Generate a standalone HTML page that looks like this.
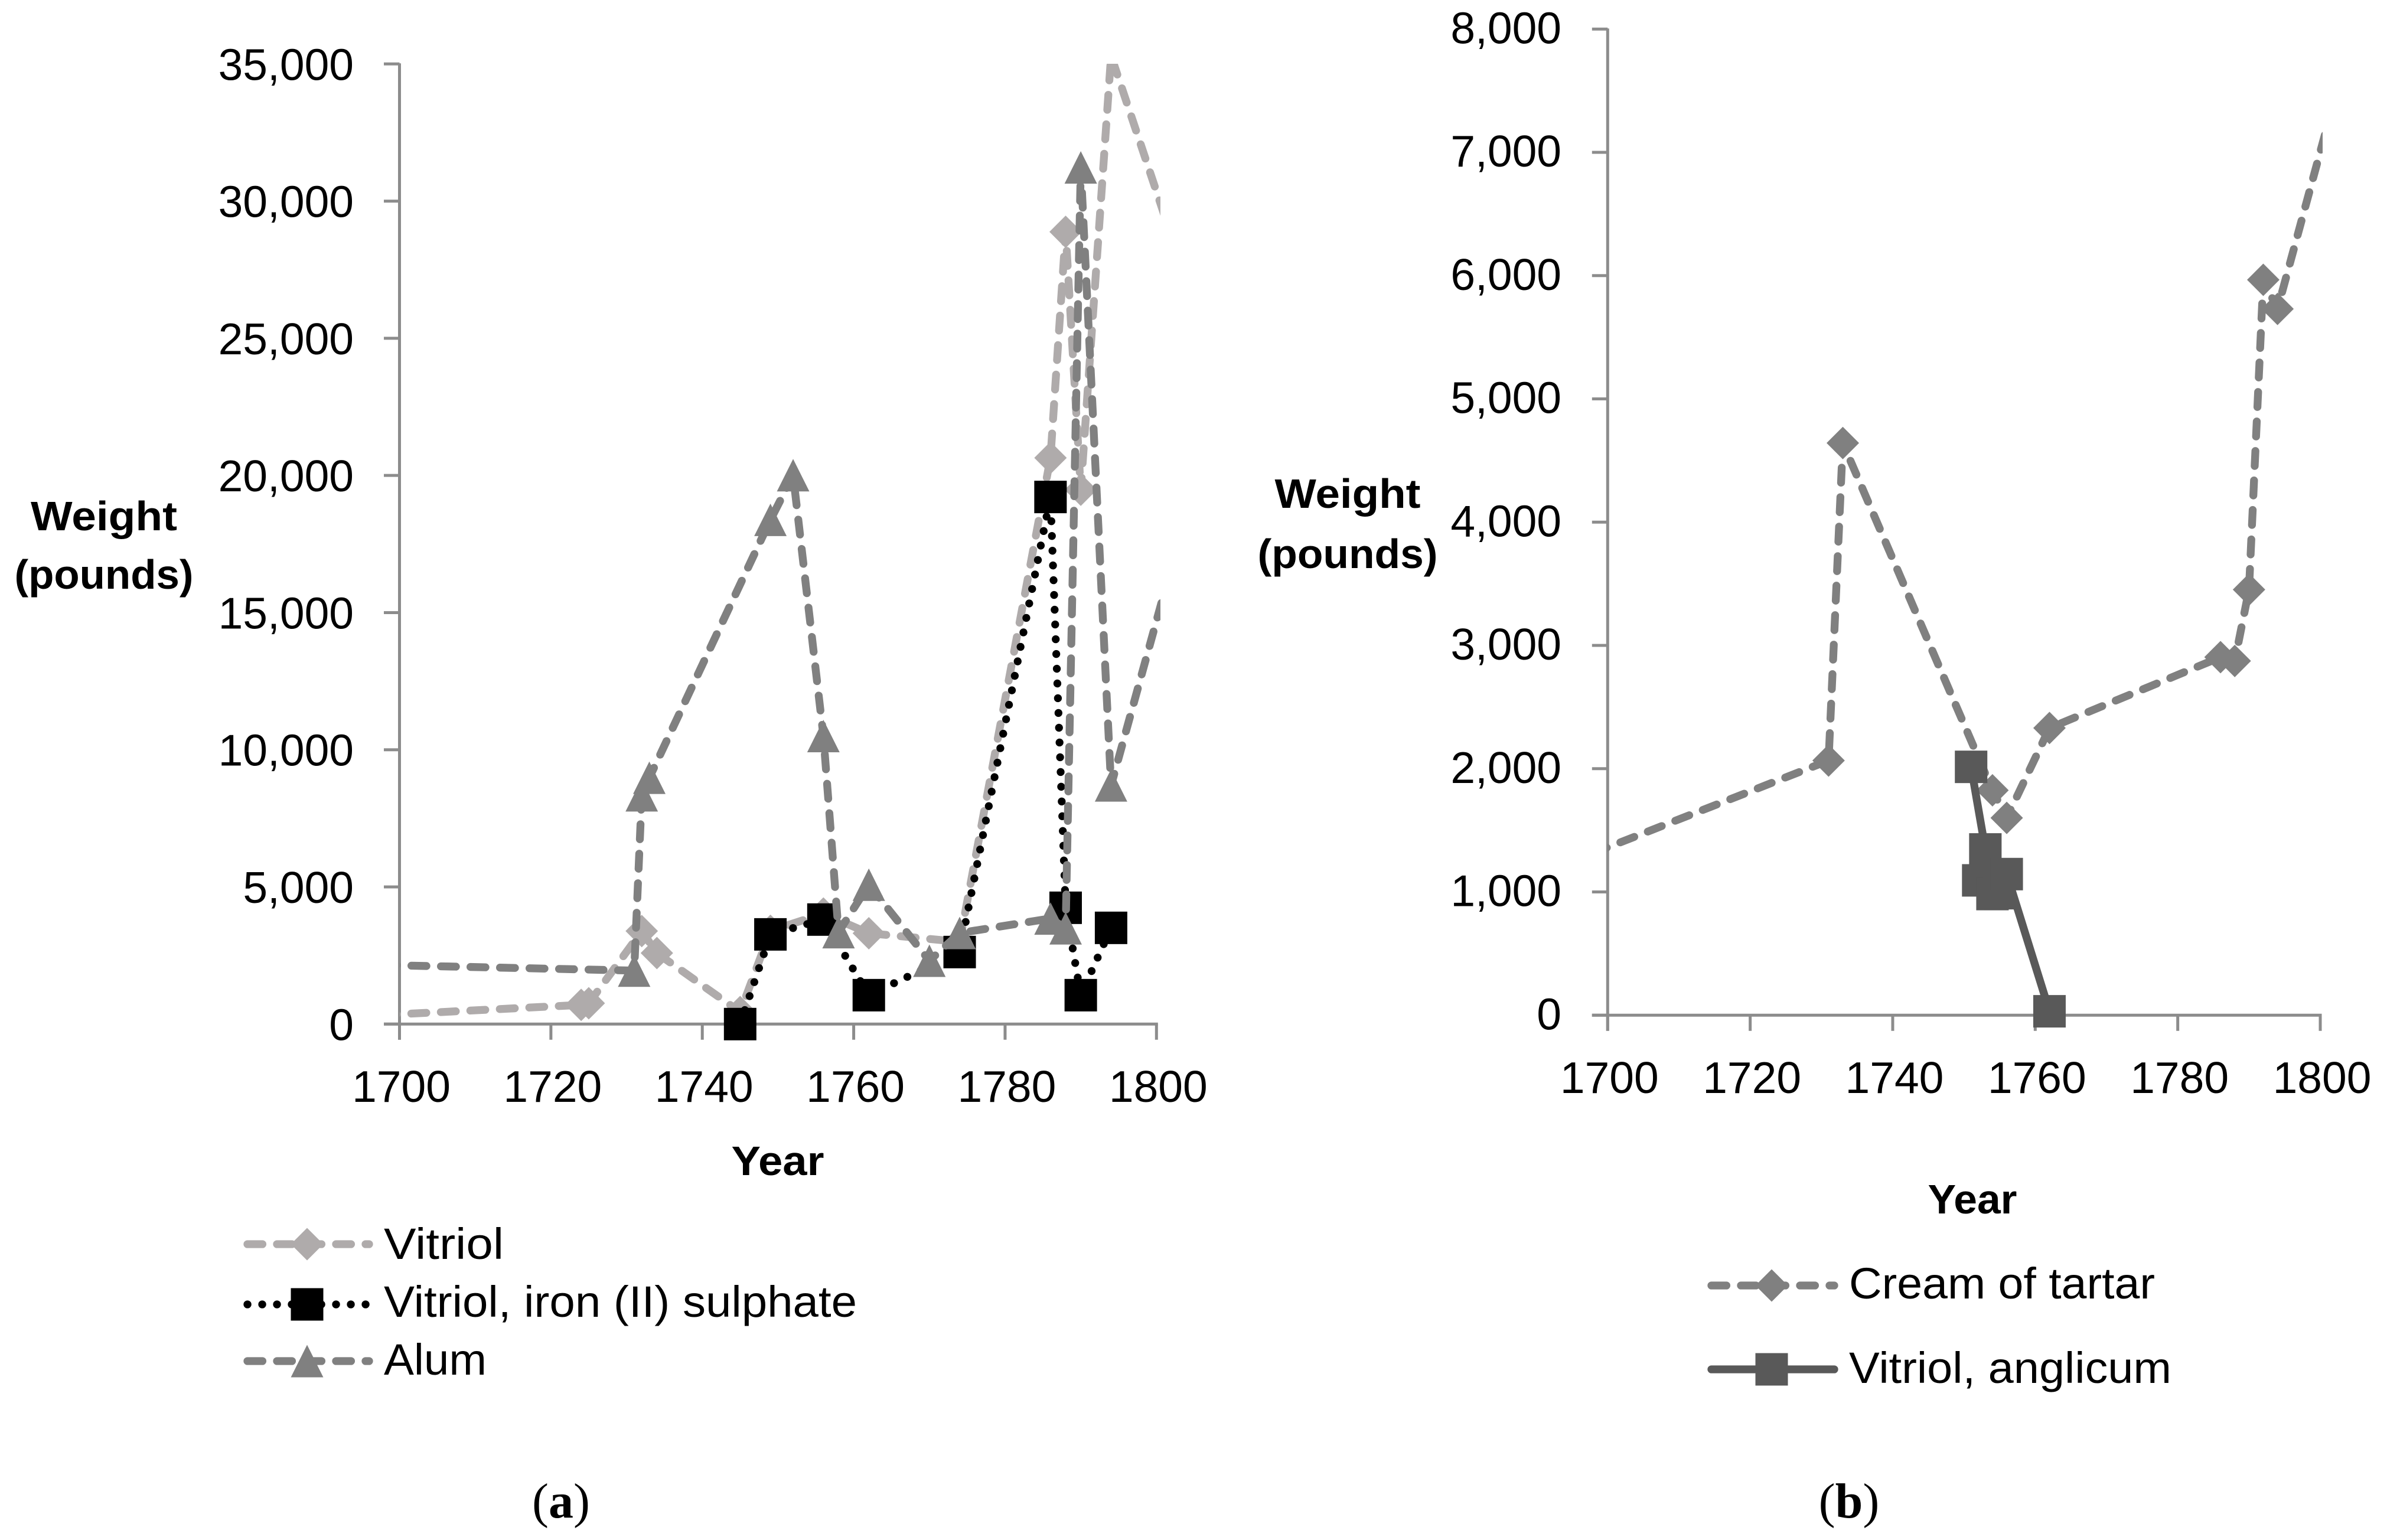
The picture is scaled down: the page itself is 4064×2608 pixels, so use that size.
<!DOCTYPE html>
<html lang="en">
<head>
<meta charset="utf-8">
<title>Weight by year: vitriol, alum, cream of tartar</title>
<style>
html,body{margin:0;padding:0;background:#fff;width:4064px;height:2608px;overflow:hidden}
svg{display:block}
text{font-family:"Liberation Sans",sans-serif;fill:#000}
.tick{font-size:75px}
.title{font-size:70px;font-weight:bold;text-anchor:middle}
.legend{font-size:74px}
.cap{font-family:"Liberation Serif",serif;font-size:84px;text-anchor:middle}
.cap tspan.b{font-weight:bold}
</style>
</head>
<body>
<svg id="figure" xmlns="http://www.w3.org/2000/svg" width="4064" height="2608" viewBox="0 0 4064 2608">
  <defs>
    <clipPath id="clip-a"><rect x="677" y="108" width="1288" height="1700"/></clipPath>
    <clipPath id="clip-b"><rect x="2722" y="49" width="1211" height="1700"/></clipPath>
  </defs>
  <g id="chart-a"></g>
  <g id="chart-b"></g>

  <text class="title" x="176" y="898" textLength="248" lengthAdjust="spacingAndGlyphs">Weight</text>
  <text class="title" x="176" y="997" textLength="303" lengthAdjust="spacingAndGlyphs">(pounds)</text>
  <text class="title" x="1317" y="1990" textLength="157" lengthAdjust="spacingAndGlyphs">Year</text>

  <text class="title" x="2282" y="860" textLength="247" lengthAdjust="spacingAndGlyphs">Weight</text>
  <text class="title" x="2282" y="962" textLength="305" lengthAdjust="spacingAndGlyphs">(pounds)</text>
  <text class="title" x="3340" y="2055" textLength="151" lengthAdjust="spacingAndGlyphs">Year</text>

  <g>
    <g>
      <line x1="419" y1="2107" x2="625" y2="2107" stroke="#afabab" stroke-width="13.3" stroke-linecap="round" stroke-dasharray="25.4 24.6"/>
      <polygon points="520,2079.5 547.5,2107 520,2134.5 492.5,2107" fill="#afabab"/>
      <text class="legend" x="650" y="2132" textLength="203" lengthAdjust="spacingAndGlyphs">Vitriol</text>
    </g>
    <g>
      <line x1="419" y1="2209" x2="625" y2="2209" stroke="#000" stroke-width="13.3" stroke-linecap="round" stroke-dasharray="0.1 24.9"/>
      <rect x="492.5" y="2181.5" width="55" height="55" fill="#000"/>
      <text class="legend" x="650" y="2230" textLength="801" lengthAdjust="spacingAndGlyphs">Vitriol, iron (II) sulphate</text>
    </g>
    <g>
      <line x1="419" y1="2305" x2="625" y2="2305" stroke="#808080" stroke-width="13.3" stroke-linecap="round" stroke-dasharray="25.4 24.6"/>
      <polygon points="520,2277.5 547.5,2332.5 492.5,2332.5" fill="#808080"/>
      <text class="legend" x="650" y="2328" textLength="174" lengthAdjust="spacingAndGlyphs">Alum</text>
    </g>
  </g>

  <g>
    <g>
      <line x1="2898" y1="2177" x2="3106" y2="2177" stroke="#808080" stroke-width="13.3" stroke-linecap="round" stroke-dasharray="25.4 24.6"/>
      <polygon points="3000,2149.5 3027.5,2177 3000,2204.5 2972.5,2177" fill="#808080"/>
      <text class="legend" x="3131" y="2199" textLength="518" lengthAdjust="spacingAndGlyphs">Cream of tartar</text>
    </g>
    <g>
      <line x1="2898" y1="2319" x2="3106" y2="2319" stroke="#595959" stroke-width="13.3" stroke-linecap="round"/>
      <rect x="2972.5" y="2291.5" width="55" height="55" fill="#595959"/>
      <text class="legend" x="3131" y="2342" textLength="546" lengthAdjust="spacingAndGlyphs">Vitriol, anglicum</text>
    </g>
  </g>

  <text class="cap" x="950" y="2570">(<tspan class="b">a</tspan>)</text>
  <text class="cap" x="3131" y="2570">(<tspan class="b">b</tspan>)</text>
</svg>

<script>
// ---- shared tick arrays ----
const xTickYears = [1700, 1720, 1740, 1760, 1780, 1800];
// ---- chart (a) data ----
const yTicksA = [0, 5000, 10000, 15000, 20000, 25000, 30000, 35000];
const vitriolYears = [1690, 1724, 1725, 1732, 1734, 1745, 1749, 1756, 1762, 1774, 1786, 1788, 1790, 1794, 1802];
const vitriolWeights = [220, 700, 760, 3390, 2590, 440, 3400, 4030, 3310, 3000, 20640, 28880, 19480, 35300, 28700];
const ironYears = [1745, 1749, 1756, 1762, 1774, 1786, 1788, 1790, 1794];
const ironWeights = [0, 3270, 3810, 1054, 2626, 19215, 4240, 1054, 3508];
const alumYears = [1690, 1731, 1732, 1733, 1749, 1752, 1756, 1758, 1762, 1770, 1774, 1786, 1788, 1790, 1794, 1802];
const alumWeights = [2200, 1950, 8340, 8980, 18380, 20010, 10500, 3350, 5080, 2310, 3320, 3850, 3490, 31230, 8700, 16700];
// ---- chart (b) data ----
const yTicksB = [0, 1000, 2000, 3000, 4000, 5000, 6000, 7000, 8000];
const creamYears = [1690, 1731, 1733, 1754, 1756, 1762, 1786, 1788, 1790, 1792, 1794, 1802];
const creamWeights = [1135, 2066, 4642, 1825, 1601, 2330, 2905, 2874, 3453, 5966, 5730, 7430];
const anglicumYears = [1751, 1753, 1752, 1754, 1755, 1756, 1762];
const anglicumWeights = [2015, 1345, 1094, 983, 990, 1145, 32];

const NS = 'http://www.w3.org/2000/svg';
const AXIS_COLOR = '#8c8c8c';
const MARKER = 55;

function make(tag, parent) {
  const el = document.createElementNS(NS, tag);
  parent.appendChild(el);
  return el;
}

function axisLine(parent, x1, y1, x2, y2) {
  const l = make('line', parent);
  l.setAttribute('x1', x1);
  l.setAttribute('y1', y1);
  l.setAttribute('x2', x2);
  l.setAttribute('y2', y2);
  l.setAttribute('stroke', AXIS_COLOR);
  l.setAttribute('stroke-width', 5);
  return l;
}

function drawAxes(root, cfg) {
  const yAxis = axisLine(root, cfg.x(cfg.xMin), cfg.y(cfg.yMax) - 1, cfg.x(cfg.xMin), cfg.y(0) + 26.5);
  
  
  const xAxis = axisLine(root, cfg.x(cfg.xMin) - 26.5, cfg.y(0), cfg.x(cfg.xMax) + 2.5, cfg.y(0));
  
  

  cfg.yTicks.forEach(function (v) {
    const t = axisLine(root, cfg.x(cfg.xMin) - 26.5, cfg.y(v), cfg.x(cfg.xMin), cfg.y(v));
    
    
    const lab = make('text', root);
    lab.setAttribute('class', 'tick');
    lab.setAttribute('text-anchor', 'end');
    lab.setAttribute('x', cfg.yLabelRight);
    lab.setAttribute('y', cfg.y(v) + cfg.yLabelDy);
    
    
    lab.textContent = v.toLocaleString('en-US');
  });

  xTickYears.forEach(function (yr) {
    const t = axisLine(root, cfg.x(yr), cfg.y(0), cfg.x(yr), cfg.y(0) + 26.5);
    
    
    const lab = make('text', root);
    lab.setAttribute('class', 'tick');
    lab.setAttribute('text-anchor', 'middle');
    lab.setAttribute('x', cfg.x(yr) + 3);
    lab.setAttribute('y', cfg.xLabelBaseline);
    
    
    lab.textContent = String(yr);
  });
}

function drawMarker(parent, shape, cx, cy, color) {
  const h = MARKER / 2;
  let m;
  if (shape === 'square') {
    m = make('rect', parent);
    m.setAttribute('x', cx - h);
    m.setAttribute('y', cy - h);
    m.setAttribute('width', MARKER);
    m.setAttribute('height', MARKER);
  } else if (shape === 'diamond') {
    m = make('polygon', parent);
    m.setAttribute('points', [cx, cy - h, cx + h, cy, cx, cy + h, cx - h, cy].join(' '));
  } else {
    m = make('polygon', parent);
    m.setAttribute('points', [cx, cy - h, cx + h, cy + h, cx - h, cy + h].join(' '));
  }
  m.setAttribute('fill', color);
  
  
}

function drawSeries(root, cfg, s) {
  const g = make('g', root);
  
  
  const line = make('path', g);
  
  
  let d = '';
  s.xs.forEach(function (yr, i) {
    d += (i ? 'L' : 'M') + cfg.x(yr).toFixed(1) + ' ' + cfg.y(s.ys[i]).toFixed(1);
  });
  line.setAttribute('d', d);
  line.setAttribute('fill', 'none');
  line.setAttribute('stroke', s.color);
  line.setAttribute('stroke-width', 13.3);
  line.setAttribute('stroke-linecap', 'round');
  line.setAttribute('stroke-linejoin', 'round');
  if (s.dash) {
    line.setAttribute('stroke-dasharray', s.dash);
    line.setAttribute('stroke-dashoffset', s.offset || 0);
  }
  line.setAttribute('clip-path', 'url(#' + cfg.clip + ')');
  s.xs.forEach(function (yr, i) {
    // points outside the axis range have no visible marker, only a clipped line
    if (yr < cfg.xMin || yr > cfg.xMax || s.ys[i] > cfg.yMax) return;
    drawMarker(g, s.shape, cfg.x(yr), cfg.y(s.ys[i]), s.color);
  });
}

const DASHED = '25.4 24.6';
const DOTTED = '0.1 24.9';

const cfgA = {
  xMin: 1700, xMax: 1800, yMax: 35000, clip: 'clip-a', yTicks: yTicksA,
  x: function (yr) { return 676.5 + (yr - 1700) * (1958.3 - 676.5) / 100; },
  y: function (v) { return 1734.3 - v * (1734.3 - 108.3) / 35000; },
  yLabelRight: 599, yLabelDy: 27, xLabelBaseline: 1866
};
const cfgB = {
  xMin: 1700, xMax: 1800, yMax: 8000, clip: 'clip-b', yTicks: yTicksB,
  x: function (yr) { return 2722.3 + (yr - 1700) * (3929 - 2722.3) / 100; },
  y: function (v) { return 1719.3 - v * (1719.3 - 49.3) / 8000; },
  yLabelRight: 2644, yLabelDy: 24, xLabelBaseline: 1851
};

const rootA = document.getElementById('chart-a');
const rootB = document.getElementById('chart-b');

drawAxes(rootA, cfgA);
drawSeries(rootA, cfgA, { name: 'series-vitriol', xs: vitriolYears, ys: vitriolWeights, color: '#afabab', shape: 'diamond', dash: DASHED, offset: 1.6 });
drawSeries(rootA, cfgA, { name: 'series-iron-sulphate', xs: ironYears, ys: ironWeights, color: '#000000', shape: 'square', dash: DOTTED, offset: 0 });
drawSeries(rootA, cfgA, { name: 'series-alum', xs: alumYears, ys: alumWeights, color: '#808080', shape: 'triangle', dash: DASHED, offset: 1.6 });

drawAxes(rootB, cfgB);
drawSeries(rootB, cfgB, { name: 'series-cream-of-tartar', xs: creamYears, ys: creamWeights, color: '#808080', shape: 'diamond', dash: DASHED, offset: 47.3 });
drawSeries(rootB, cfgB, { name: 'series-vitriol-anglicum', xs: anglicumYears, ys: anglicumWeights, color: '#595959', shape: 'square' });
</script>
</body>
</html>
